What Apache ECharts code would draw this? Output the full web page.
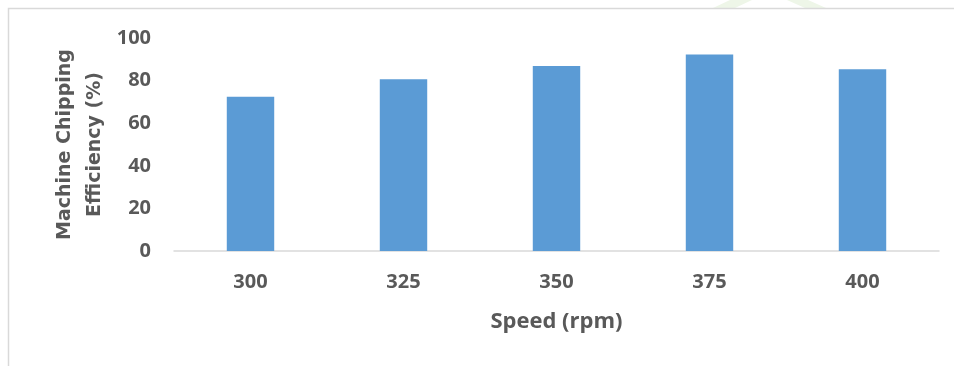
<!DOCTYPE html>
<html>
<head>
<meta charset="utf-8">
<script src="https://cdn.jsdelivr.net/npm/echarts@6/dist/echarts.min.js"></script>
<style>html,body{margin:0;padding:0;background:#fff}#c{width:954px;height:366px}</style>
</head>
<body>
<div id="c"></div>
<script>
const categories = ['300', '325', '350', '375', '400'];
const efficiency = [72.4, 80.6, 86.8, 92.3, 85.3];
const yTicks = { min: 0, max: 100, interval: 20 };
const xName = 'Speed (rpm)';
const yName = 'Machine Chipping\nEfficiency (%)';

const chart = echarts.init(document.getElementById('c'), null, { renderer: 'canvas' });
const labelFont = { fontFamily: 'Open Sans', fontWeight: 'bold', fontSize: 20, color: '#595959' };
chart.setOption({
  animation: false,
  backgroundColor: '#fff',
  graphic: [
    { type: 'rect', shape: { x: 8.5, y: 8.5, width: 1000, height: 400 }, style: { fill: 'none', stroke: '#d9d9d9', lineWidth: 1.5 }, z: -1 },
    { type: 'polygon', shape: { points: [[713, 8], [735, 8], [752, 0], [730, 0]] }, style: { fill: '#eef6e8' }, z: -2 },
    { type: 'polygon', shape: { points: [[787, 0], [808, 0], [826, 8], [805, 8]] }, style: { fill: '#eef6e8' }, z: -2 }
  ],
  grid: { left: 174, right: 15, top: 38, bottom: 115, containLabel: false },
  xAxis: {
    type: 'category',
    data: categories,
    axisLine: { lineStyle: { color: '#d9d9d9', width: 1.5 } },
    axisTick: { show: false },
    axisLabel: Object.assign({ margin: 21 }, labelFont),
    name: xName,
    nameLocation: 'middle',
    nameGap: 60,
    nameMoveOverlap: false,
    nameTextStyle: { fontFamily: 'Open Sans', fontWeight: 'bold', fontSize: 22, color: '#595959' }
  },
  yAxis: {
    type: 'value',
    min: yTicks.min, max: yTicks.max, interval: yTicks.interval,
    splitLine: { show: false },
    axisLine: { show: false },
    axisTick: { show: false },
    axisLabel: Object.assign({ margin: 23 }, labelFont),
    name: yName,
    nameLocation: 'middle',
    nameRotate: 90,
    nameGap: 64,
    nameMoveOverlap: false,
    nameTextStyle: { fontFamily: 'DejaVu Sans', fontWeight: 'bold', fontSize: 19, color: '#595959', lineHeight: 30 }
  },
  series: [{
    type: 'bar',
    data: efficiency,
    barWidth: '31%',
    itemStyle: { color: '#5b9bd5' }
  }]
});
</script>
</body>
</html>
